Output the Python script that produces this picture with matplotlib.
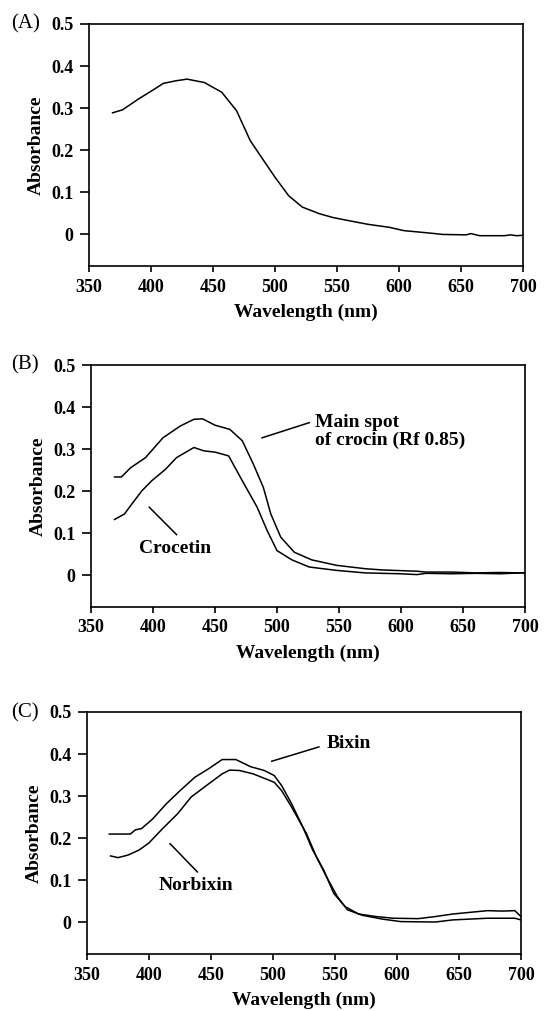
import numpy as np
import matplotlib
matplotlib.use('Agg')
from matplotlib import pyplot as plt

plt.rcParams['font.family'] = ['Liberation Serif', 'DejaVu Serif']

# ---- panel A : single spectrum ----
wl_a = [369, 377, 390, 401, 410, 420, 429, 443, 457, 469, 480, 491, 500, 511, 522,
        536, 547, 559, 575, 592, 604, 615, 629, 635, 654, 658, 665, 675, 685, 690, 695, 700]
abs_a = [0.289, 0.296, 0.322, 0.342, 0.359, 0.365, 0.369, 0.361, 0.338, 0.294, 0.223, 0.175,
         0.136, 0.092, 0.065, 0.049, 0.040, 0.033, 0.024, 0.017, 0.009, 0.006, 0.002, 0.0,
         -0.001, 0.002, -0.003, -0.003, -0.003, -0.001, -0.003, -0.002]

# ---- panel B : crocin main spot and crocetin ----
wl_crocin = [369, 374.5, 382, 394, 408, 422, 433, 440, 450, 462, 472, 481, 489, 495, 503,
             514, 528, 548, 571, 585, 613, 620, 641, 660, 680, 697, 700]
abs_crocin = [0.234, 0.234, 0.256, 0.280, 0.327, 0.355, 0.371, 0.372, 0.357, 0.347, 0.320,
              0.264, 0.209, 0.146, 0.091, 0.055, 0.037, 0.024, 0.016, 0.013, 0.010, 0.008,
              0.008, 0.006, 0.007, 0.006, 0.006]

wl_crocetin = [369, 377, 382, 391, 399, 410, 419, 433, 441, 450, 461, 472, 484, 492, 500,
               512, 526, 548, 571, 599, 613, 620, 641, 660, 680, 697, 700]
abs_crocetin = [0.133, 0.146, 0.166, 0.201, 0.225, 0.252, 0.280, 0.304, 0.296, 0.293, 0.284,
                0.225, 0.162, 0.107, 0.059, 0.037, 0.020, 0.012, 0.006, 0.004, 0.002, 0.005,
                0.004, 0.005, 0.004, 0.006, 0.006]

# ---- panel C : bixin and norbixin ----
wl_bixin = [368, 385, 389, 394, 403, 414, 425, 437, 448, 459, 470, 482, 493, 501, 507, 515,
            524, 532, 541, 549, 558, 569, 583, 597, 617, 631, 645, 659, 673, 685, 695, 700]
abs_bixin = [0.210, 0.210, 0.220, 0.223, 0.246, 0.282, 0.313, 0.345, 0.365, 0.387, 0.387,
             0.370, 0.361, 0.349, 0.325, 0.282, 0.227, 0.172, 0.124, 0.069, 0.038, 0.020,
             0.014, 0.010, 0.009, 0.014, 0.020, 0.024, 0.028, 0.027, 0.028, 0.014]

wl_norbixin = [369, 375, 383, 392, 400, 411, 423, 434, 448, 459, 465, 473, 484, 501, 507,
               515, 527, 535, 543, 552, 560, 572, 588, 603, 631, 645, 673, 685, 695, 700]
abs_norbixin = [0.158, 0.154, 0.160, 0.172, 0.189, 0.223, 0.258, 0.298, 0.329, 0.353, 0.362,
                0.361, 0.353, 0.333, 0.313, 0.274, 0.211, 0.156, 0.109, 0.061, 0.030, 0.017,
                0.008, 0.002, 0.001, 0.006, 0.010, 0.010, 0.010, 0.006]

xticks = [350, 400, 450, 500, 550, 600, 650, 700]
yticks = [0, 0.1, 0.2, 0.3, 0.4, 0.5]
ytick_labels = ['0', '0.1', '0.2', '0.3', '0.4', '0.5']

fig = plt.figure(figsize=(5.45, 10.11), dpi=100)

# axes boxes in figure fractions (left, bottom, width, height)
boxes = [(89 / 545, 1 - 266 / 1011, 434 / 545, 242 / 1011),
         (91 / 545, 1 - 607 / 1011, 434 / 545, 242 / 1011),
         (87 / 545, 1 - 954 / 1011, 434 / 545, 242 / 1011)]
letters = ['(A)', '(B)', '(C)']

bold = dict(fontweight='bold', fontsize=14)


def style_axes(ax, letter, top_px):
    ax.set_xlim(350, 700)
    ax.set_ylim(-0.075, 0.5)
    ax.set_xticks(xticks)
    ax.set_yticks(yticks)
    ax.set_yticklabels(ytick_labels)
    for s in ax.spines.values():
        s.set_linewidth(1.2)
    ax.tick_params(axis='y', direction='out', length=6.5, width=1.2, pad=4.5,
                   labelsize=13)
    ax.tick_params(axis='x', direction='out', length=4, width=1.2, pad=5,
                   labelsize=13)
    for lab in ax.get_xticklabels() + ax.get_yticklabels():
        lab.set_fontweight('bold')
    ax.set_xlabel('Wavelength (nm)', **bold)
    ax.set_ylabel('Absorbance', **bold)
    ax.xaxis.set_label_coords(0.5, -0.155)
    ax.yaxis.set_label_coords(-0.101, 0.5)
    fig.text(11.5 / 545, 1 - top_px / 1011, letter, fontsize=15,
             ha='left', va='center')


tops = [24, 365, 713]
axes = [fig.add_axes(b) for b in boxes]
for ax, letter, top in zip(axes, letters, tops):
    style_axes(ax, letter, top)

lw = 1.1
axes[0].plot(wl_a, abs_a, color='black', lw=lw)

axes[1].plot(wl_crocin, abs_crocin, color='black', lw=lw)
axes[1].plot(wl_crocetin, abs_crocetin, color='black', lw=lw)
axes[1].plot([488, 526], [0.327, 0.363], color='black', lw=1.1)
axes[1].text(531, 0.342, 'Main spot\nof crocin (Rf 0.85)', ha='left', va='center',
             linespacing=1.1, **bold)
axes[1].plot([397, 419], [0.162, 0.097], color='black', lw=1.1)
axes[1].text(418, 0.063, 'Crocetin', ha='center', va='center', **bold)

axes[2].plot(wl_bixin, abs_bixin, color='black', lw=lw)
axes[2].plot(wl_norbixin, abs_norbixin, color='black', lw=lw)
axes[2].plot([499, 537], [0.383, 0.417], color='black', lw=1.1)
axes[2].text(543, 0.424, 'Bixin', ha='left', va='center', **bold)
axes[2].plot([417, 439], [0.187, 0.120], color='black', lw=1.1)
axes[2].text(438, 0.087, 'Norbixin', ha='center', va='center', **bold)

fig.savefig('out.png', dpi=100)
